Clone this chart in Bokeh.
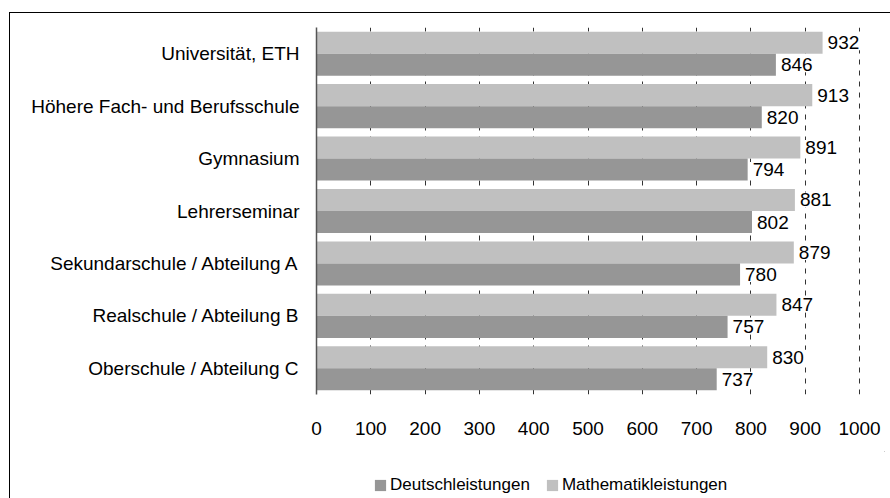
from bokeh.plotting import figure
from bokeh.layouts import column
from bokeh.models import ColumnDataSource, FactorRange, FixedTicker, Legend, LegendItem
from bokeh.transform import dodge
from bokeh.core.properties import value
from bokeh.embed import file_html
from bokeh.resources import INLINE

categories = [
    "Universität, ETH",
    "Höhere Fach- und Berufsschule",
    "Gymnasium",
    "Lehrerseminar",
    "Sekundarschule / Abteilung A",
    "Realschule / Abteilung B",
    "Oberschule / Abteilung C",
]
deutsch = [846, 820, 794, 802, 780, 757, 737]
mathematik = [932, 913, 891, 881, 879, 847, 830]
x_ticks = [0, 100, 200, 300, 400, 500, 600, 700, 800, 900, 1000]
series_names = ["Deutschleistungen", "Mathematikleistungen"]

FONT = "Liberation Sans"
DARK = "#969696"
LIGHT = "#c0c0c0"

src = ColumnDataSource(dict(
    cat=categories,
    deutsch=deutsch,
    mathematik=mathematik,
    dlab=[str(v) for v in deutsch],
    mlab=[str(v) for v in mathematik],
))

p = figure(
    width=880, height=438,
    y_range=FactorRange(factors=list(reversed(categories)), range_padding=0),
    x_range=(0, 1046),
    output_backend="svg", toolbar_location=None,
    min_border_left=306, min_border_right=6, min_border_top=14, min_border_bottom=57,
)
p.outline_line_color = None
p.background_fill_color = "white"
p.border_fill_color = "white"

p.hbar(y=dodge("cat", 0.21, range=p.y_range), right="mathematik", left=0, height=0.42,
       source=src, fill_color=LIGHT, line_color=None)
p.hbar(y=dodge("cat", -0.21, range=p.y_range), right="deutsch", left=0, height=0.42,
       source=src, fill_color=DARK, line_color=None)

# grid
p.ygrid.grid_line_color = None
p.xgrid.grid_line_color = "#333333"
p.xgrid.grid_line_dash = "5 6"
p.xgrid.grid_line_width = 1
p.xgrid.ticker = FixedTicker(ticks=x_ticks)

# x axis
p.xaxis.ticker = FixedTicker(ticks=x_ticks)
p.xaxis.axis_line_color = None
p.xaxis.major_tick_line_color = None
p.xaxis.minor_tick_line_color = None
p.xaxis.major_tick_out = 0
p.xaxis.major_tick_in = 0
p.xaxis.major_label_standoff = 27
p.xaxis.major_label_text_font = FONT
p.xaxis.major_label_text_font_size = "19px"
p.xaxis.major_label_text_color = "black"

# y axis
p.yaxis.axis_line_color = "#555555"
p.yaxis.axis_line_width = 1.5
p.yaxis.major_tick_line_color = None
p.yaxis.minor_tick_line_color = None
p.yaxis.major_tick_out = 0
p.yaxis.major_tick_in = 0
p.yaxis.major_label_standoff = 17
p.yaxis.major_label_text_font = FONT
p.yaxis.major_label_text_font_size = "19px"
p.yaxis.major_label_text_color = "black"

# value labels
for col, lab, off in (("mathematik", "mlab", 0.21), ("deutsch", "dlab", -0.21)):
    p.text(x=col, y=dodge("cat", off, range=p.y_range), text=lab, source=src,
           x_offset=2, text_baseline="middle", text_align="left",
           text_font=value(FONT), text_font_size="19px", text_color="black",
           background_fill_color="white", padding=(3, 1))

# legend strip below the chart (its renderers have zero width and lie outside its ranges)
p2 = figure(width=880, height=47, x_range=(0, 1), y_range=(0, 1),
            x_axis_type=None, y_axis_type=None,
            output_backend="svg", toolbar_location=None,
            min_border_left=0, min_border_right=0, min_border_top=0, min_border_bottom=0)
p2.outline_line_color = None
p2.background_fill_color = "white"
p2.border_fill_color = "white"
lg_d = p2.hbar(y="deutsch", right="deutsch", left="deutsch", height=1, source=src,
               fill_color=DARK, line_color=None)
lg_m = p2.hbar(y="mathematik", right="mathematik", left="mathematik", height=1, source=src,
               fill_color=LIGHT, line_color=None)

legend = Legend(items=[LegendItem(label=series_names[0], renderers=[lg_d]),
                       LegendItem(label=series_names[1], renderers=[lg_m])],
                orientation="horizontal", location=(57, 3))
legend.padding = 0
legend.margin = 0
legend.spacing = 15
legend.label_standoff = 3
legend.glyph_width = 14
legend.glyph_height = 14
legend.border_line_color = None
legend.background_fill_alpha = 0
legend.label_text_font = FONT
legend.label_text_font_size = "17px"
legend.label_text_color = "black"
p2.add_layout(legend, "center")

layout = column(p, p2, spacing=0)
layout.margin = (12, 0, 0, 9)
layout.styles = {"border-top": "1px solid black", "border-left": "1px solid black"}

open("out.html", "w").write(file_html(layout, INLINE))
